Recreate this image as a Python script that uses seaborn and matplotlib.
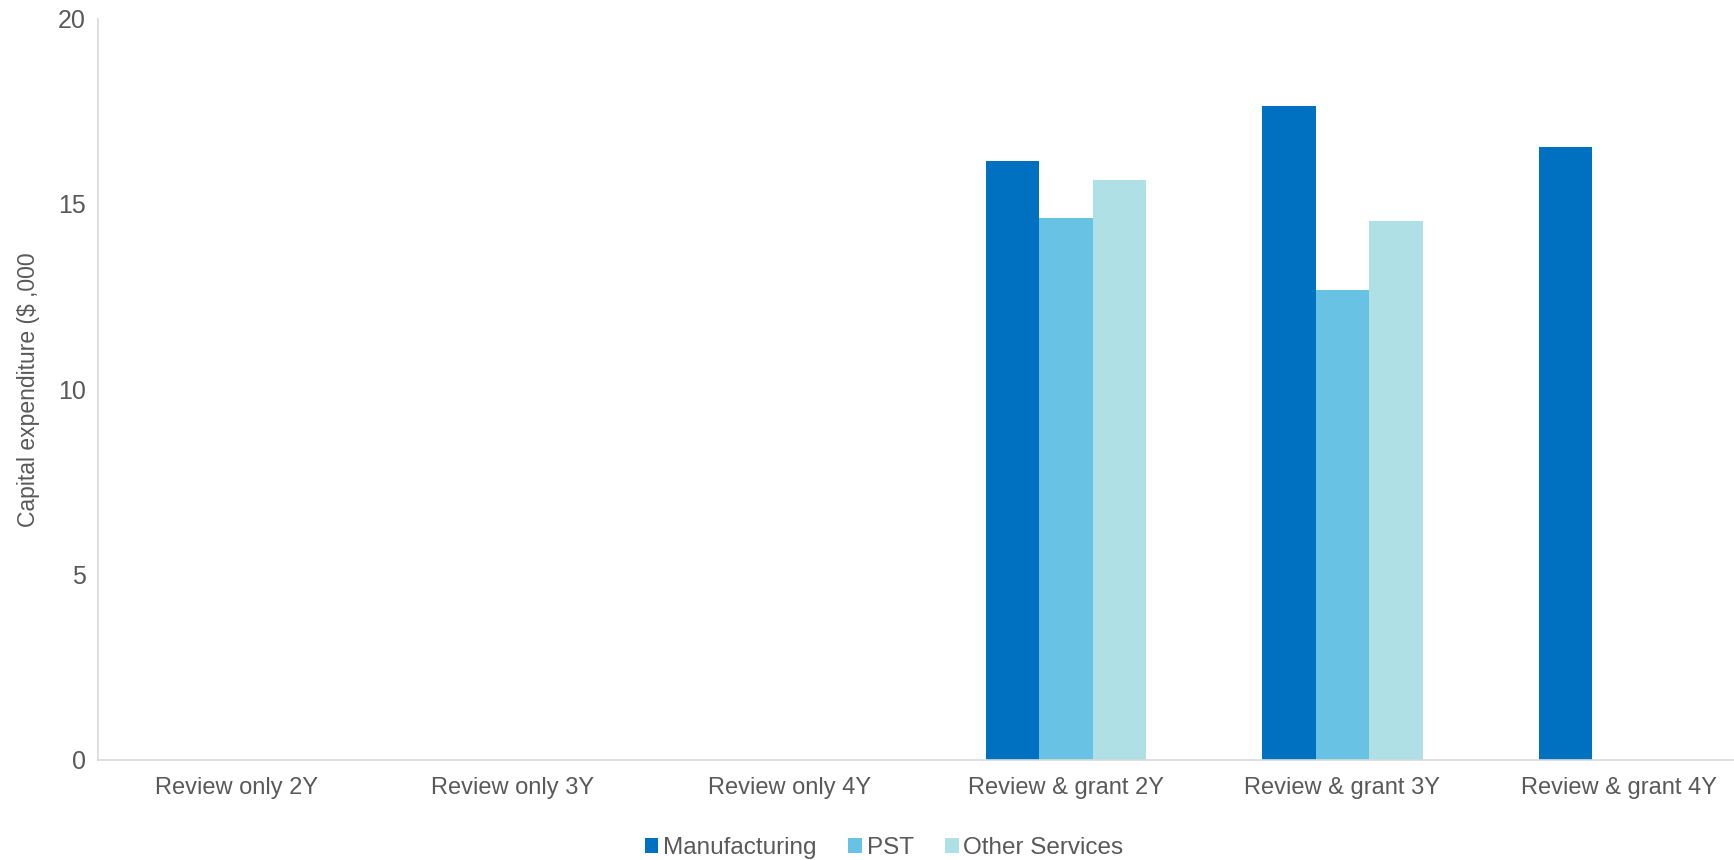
import numpy as np
import pandas as pd
import seaborn as sns
import matplotlib.pyplot as plt
from matplotlib.ticker import FixedLocator

# Données
categories = ['Review only 2Y', 'Review only 3Y', 'Review only 4Y',
              'Review & grant 2Y', 'Review & grant 3Y', 'Review & grant 4Y']
secteurs = ['Manufacturing', 'PST', 'Other Services']
manufacturing = [np.nan, np.nan, np.nan, 16.15, 17.64, 16.54]
pst = [np.nan, np.nan, np.nan, 14.63, 12.69, np.nan]
other_services = [np.nan, np.nan, np.nan, 15.64, 14.54, np.nan]
couleurs = ['#0070C0', '#67C2E4', '#AEE0E5']

df = pd.DataFrame({
    'Categorie': categories * 3,
    'Secteur': ['Manufacturing'] * 6 + ['PST'] * 6 + ['Other Services'] * 6,
    'Valeur': manufacturing + pst + other_services,
})

sns.set_style('white')
plt.rcParams['font.family'] = ['Liberation Sans', 'DejaVu Sans']
gris = '#595959'

fig = plt.figure(figsize=(17.34, 8.6), dpi=100)
# le dernier groupe dépasse un peu du bord droit, comme dans l'original
ax = fig.add_axes([0.0567, 0.1163, 0.9566, 0.862])

sns.barplot(data=df, x='Categorie', y='Valeur', hue='Secteur',
            order=categories, hue_order=secteurs, palette=couleurs,
            width=0.58, errorbar=None, saturation=1, ax=ax, linewidth=0)

ax.set_ylim(0, 20)
ax.set_xlim(-0.5, 5.5)
ax.set_yticks([0, 5, 10, 15, 20])
ax.set_xlabel('')
ax.set_ylabel('Capital expenditure ($ ,000', fontsize=16.5, color=gris,
              labelpad=13)

for s in ['top', 'right']:
    ax.spines[s].set_visible(False)
for s in ['left', 'bottom']:
    ax.spines[s].set_color('#D9D9D9')
    ax.spines[s].set_linewidth(1.2)

ax.tick_params(axis='y', length=7, color='#D9D9D9', width=1.2,
               labelsize=18, labelcolor=gris, pad=2)
ax.tick_params(axis='x', which='major', length=0, labelsize=17,
               labelcolor=gris, pad=12)
ax.xaxis.set_minor_locator(FixedLocator(np.arange(-0.5, 6, 1)))
ax.tick_params(axis='x', which='minor', length=8, color='#D9D9D9', width=1.2)

ax.legend(loc='center', bbox_to_anchor=(0.51, 0.014),
          bbox_transform=fig.transFigure, ncol=3, frameon=False,
          fontsize=17.5, labelcolor=gris, handlelength=0.55, handleheight=0.55,
          handletextpad=0.2, columnspacing=1.3)

plt.savefig('out.png', dpi=100)
